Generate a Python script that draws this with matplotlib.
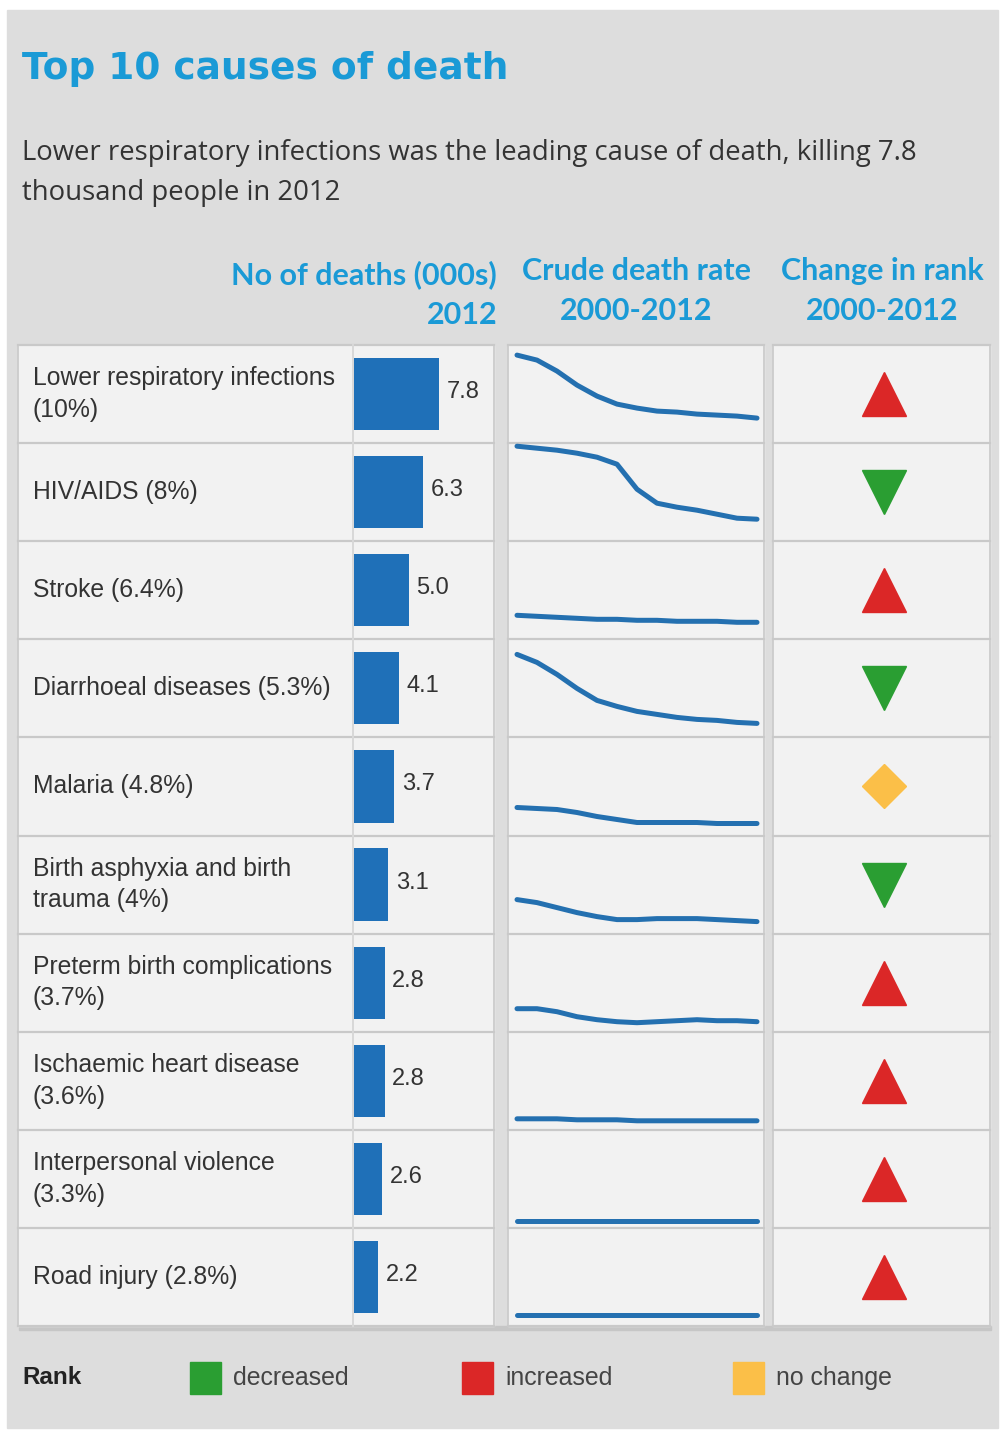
import matplotlib.pyplot as plt
from matplotlib.patches import Rectangle

# ---- data ----
causes = [
    'Lower respiratory infections\n(10%)',
    'HIV/AIDS (8%)',
    'Stroke (6.4%)',
    'Diarrhoeal diseases (5.3%)',
    'Malaria (4.8%)',
    'Birth asphyxia and birth\ntrauma (4%)',
    'Preterm birth complications\n(3.7%)',
    'Ischaemic heart disease\n(3.6%)',
    'Interpersonal violence\n(3.3%)',
    'Road injury (2.8%)',
]
deaths_000s = [7.8, 6.3, 5.0, 4.1, 3.7, 3.1, 2.8, 2.8, 2.6, 2.2]
years = list(range(2000, 2013))
# crude death rate trend (relative scale)
rate_lri = [88, 83, 72, 58, 47, 39, 35, 32, 31, 29, 28, 27, 25]
rate_hiv = [95, 93, 91, 88, 84, 77, 52, 38, 34, 31, 27, 23, 22]
rate_stroke = [24, 23, 22, 21, 20, 20, 19, 19, 18, 18, 18, 17, 17]
rate_diarr = [83, 75, 63, 49, 37, 31, 26, 23, 20, 18, 17, 15, 14]
rate_malaria = [28, 27, 26, 23, 19, 16, 13, 13, 13, 13, 12, 12, 12]
rate_asphyxia = [34, 31, 26, 21, 17, 14, 14, 15, 15, 15, 14, 13, 12]
rate_preterm = [23, 23, 20, 15, 12, 10, 9, 10, 11, 12, 11, 11, 10]
rate_ihd = [11, 11, 11, 10, 10, 10, 9, 9, 9, 9, 9, 9, 9]
rate_violence = [7, 7, 7, 7, 7, 7, 7, 7, 7, 7, 7, 7, 7]
rate_road = [11, 11, 11, 11, 11, 11, 11, 11, 11, 11, 11, 11, 11]
rates = [rate_lri, rate_hiv, rate_stroke, rate_diarr, rate_malaria,
         rate_asphyxia, rate_preterm, rate_ihd, rate_violence, rate_road]
rank_change = ['increased', 'decreased', 'increased', 'decreased', 'no change',
               'decreased', 'increased', 'increased', 'increased', 'increased']

# ---- style ----
BLUE_TXT = '#1a9ad6'
BAR_COL = '#1f70b8'
LINE_COL = '#2470b0'
CELL = '#f2f2f2'
PANEL = '#dddddd'
GRID = '#c9c9c9'
RANK_STYLE = {
    'increased': ('^', '#db2727', 31),
    'decreased': ('v', '#2a9e32', 31),
    'no change': ('D', '#fbbf48', 22),
}

W, H = 1000, 1431
fig = plt.figure(figsize=(W / 100, H / 100), dpi=100)


def px_axes(x0, y0, x1, y1):
    return fig.add_axes([x0 / W, 1 - y1 / H, (x1 - x0) / W, (y1 - y0) / H])


# background canvas in pixel coordinates
bg = fig.add_axes([0, 0, 1, 1])
bg.set_xlim(0, W)
bg.set_ylim(H, 0)
bg.axis('off')
bg.add_patch(Rectangle((7, 10), 991, 1418, color=PANEL, zorder=0))

row_top, row_h, n = 345, 98.1, len(causes)
tbl_bot = row_top + row_h * n
# shadow under table
bg.add_patch(Rectangle((19, tbl_bot), 972, 4, color='#c6c6c6', zorder=1))
for x0, x1 in [(18, 494), (508, 764), (773, 990)]:
    bg.add_patch(Rectangle((x0, row_top), x1 - x0, tbl_bot - row_top, color=CELL, zorder=1))
    for i in range(n + 1):
        y = row_top + i * row_h
        bg.plot([x0, x1], [y, y], color=GRID, lw=1.6, zorder=2)
    bg.plot([x0, x0], [row_top, tbl_bot], color=GRID, lw=1.2, zorder=2)
    bg.plot([x1, x1], [row_top, tbl_bot], color=GRID, lw=1.2, zorder=2)
bg.plot([353, 353], [row_top, tbl_bot], color='#d8d8d8', lw=1.4, zorder=2)

# titles
bg.text(22, 69, 'Top 10 causes of death', fontsize=27, fontweight='bold',
        family='DejaVu Sans', color=BLUE_TXT, va='center')
bg.text(22, 153, 'Lower respiratory infections was the leading cause of death, killing 7.8',
        fontsize=19.8, family='Open Sans', color='#333333', va='center')
bg.text(22, 193, 'thousand people in 2012',
        fontsize=19.8, family='Open Sans', color='#333333', va='center')

hdr = dict(fontsize=22, fontweight='bold', family='Lato', color=BLUE_TXT, va='center')
bg.text(497, 275, 'No of deaths (000s)', ha='right', **hdr)
bg.text(497, 315, '2012', ha='right', **hdr)
bg.text(636, 271, 'Crude death rate', ha='center', **hdr)
bg.text(636, 311, '2000-2012', ha='center', **hdr)
bg.text(882, 271, 'Change in rank', ha='center', **hdr)
bg.text(882, 311, '2000-2012', ha='center', **hdr)

# row labels
for i, lab in enumerate(causes):
    yc = row_top + (i + 0.5) * row_h
    bg.text(33, yc, lab, fontsize=17.8, family='Liberation Sans', color='#333333',
            va='center', linespacing=1.4, zorder=3)

# bars
ax_bar = px_axes(354, row_top, 494, tbl_bot)
ax_bar.barh(range(n), deaths_000s, height=0.735, color=BAR_COL, left=0)
for i, v in enumerate(deaths_000s):
    ax_bar.text(v + 0.72, i - 0.02, f'{v:.1f}', fontsize=17, family='Liberation Sans',
                color='#333333', va='center')
ax_bar.set_xlim(0, 140 / 10.9)
ax_bar.set_ylim(n - 0.5, -0.5)
ax_bar.axis('off')

# sparklines
for i, r in enumerate(rates):
    y0 = row_top + i * row_h
    ax = px_axes(508, y0, 764, y0 + row_h)
    ax.plot(years, r, color=LINE_COL, lw=3.6, solid_capstyle='round',
            solid_joinstyle='round')
    ax.set_xlim(2000 - 9 / 20, 2012 + 7 / 20)
    ax.set_ylim(0, row_h)
    ax.axis('off')

# rank change markers
ax_rank = px_axes(773, row_top, 990, tbl_bot)
for i, ch in enumerate(rank_change):
    m, c, ms = RANK_STYLE[ch]
    ax_rank.plot([0], [i], marker=m, color=c, markersize=ms, linestyle='none')
ax_rank.set_xlim(-0.5115, 0.4885)
ax_rank.set_ylim(n - 0.5, -0.5)
ax_rank.axis('off')

# legend
bg.text(22, 1378, 'Rank', fontsize=17.5, fontweight='bold', family='Liberation Sans',
        color='#222222', va='center')
for (label, x_sq) in [('decreased', 190), ('increased', 462), ('no change', 733)]:
    col = RANK_STYLE[label][1]
    bg.add_patch(Rectangle((x_sq, 1362), 31, 32, color=col, zorder=3))
    bg.text(x_sq + 43, 1378, label, fontsize=17.9, family='Liberation Sans',
            color='#444444', va='center')

fig.savefig('out.png', dpi=100)
